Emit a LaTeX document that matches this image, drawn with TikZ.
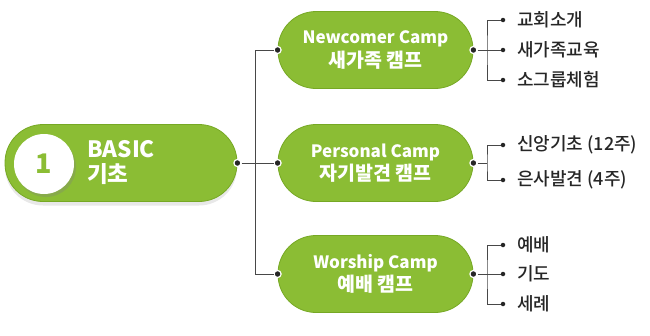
\documentclass[tikz,border=0pt]{standalone}
\usepackage{fontspec}
\setmainfont{Noto Sans CJK KR}
\newfontfamily\leaffont{Noto Sans CJK KR Medium}
\usetikzlibrary{positioning,calc,shadows}
\definecolor{CampGreen}{RGB}{139,189,52}
\definecolor{CampEdge}{RGB}{118,168,36}
\definecolor{LeafGray}{RGB}{38,38,38}
\definecolor{WireGray}{RGB}{72,72,72}
\newcommand{\korline}[1]{{\fontsize{19.5}{23.5}\selectfont #1}}

\begin{document}
\begin{tikzpicture}[
    x=1pt, y=-1pt,
    camp/.style={
        draw=CampEdge,
        fill=CampGreen,
        line width=0.8pt,
        rounded corners=38pt,
        minimum width=195pt,
        minimum height=77pt,
        align=center,
        text=white,
        font=\bfseries\fontsize{17}{23.5}\selectfont
    },
    leaf/.style={anchor=west, inner sep=0pt, text=LeafGray, font=\leaffont\fontsize{18}{20}\selectfont},
    wire/.style={draw=WireGray, line width=1pt},
    port/.style={circle, fill=black!85, draw=white, line width=1.2pt, inner sep=0pt, minimum size=7pt},
    tip/.style={circle, fill=black!85, inner sep=0pt, minimum size=4.5pt}
]
\useasboundingbox (0,0) rectangle (650,335);

% basic block
\node[camp, minimum width=232pt, drop shadow={opacity=0.18, shadow xshift=0pt, shadow yshift=-4pt}] (basic) at (121,163) {};
\node[circle, fill=white, minimum size=60pt, inner sep=0pt, text=CampGreen,
      font=\bfseries\fontsize{27}{29}\selectfont,
      drop shadow={opacity=0.3, shadow xshift=2pt, shadow yshift=-3pt}] (num) at (44,164) {1};
\node[anchor=west, align=left, inner sep=0pt, text=white, font=\bfseries\fontsize{22.5}{25}\selectfont] (basictxt) at (87,163) {BASIC\\기초};

% camps
\node[camp] (newcomer) at (375.5,50) {Newcomer Camp\\\korline{새가족 캠프}};
\node[camp] (personal) at (375.5,163) {Personal Camp\\\korline{자기발견 캠프}};
\node[camp] (worship) at (375.5,274) {Worship Camp\\\korline{예배 캠프}};

% ports
\node[port] (bout) at (basic.east) {};
\node[port] (nin) at (newcomer.west) {};
\node[port] (pin) at (personal.west) {};
\node[port] (win) at (worship.west) {};
\node[port] (nout) at (newcomer.east) {};
\node[port] (pout) at (personal.east) {};
\node[port] (wout) at (worship.east) {};

\coordinate (split) at (255.5,163);
\draw[wire] (nin) -| (split) |- (win);
\draw[wire] (bout) -- (pin);

% leaves
\node[leaf] (n1) at (517,20) {교회소개};
\node[leaf] (n2) at (517,50) {새가족교육};
\node[leaf] (n3) at (517,80) {소그룹체험};
\node[leaf] (p1) at (517,145) {신앙기초 (12주)};
\node[leaf] (p2) at (517,180) {은사발견 (4주)};
\node[leaf] (w1) at (517,245) {예배};
\node[leaf] (w2) at (517,274) {기도};
\node[leaf] (w3) at (517,304) {세례};

\foreach \l in {n1,n2,n3,p1,p2,w1,w2,w3}
    \node[tip] (\l dot) at ($(\l.west)+(-14,0)$) {};

\coordinate (nsplit) at (487,50);
\coordinate (psplit) at (487,163);
\coordinate (wsplit) at (487,274);

\draw[wire] (nout) -- (n2dot);
\draw[wire] (n1dot) -| (nsplit) |- (n3dot);
\draw[wire] (pout) -- (psplit);
\draw[wire] (p1dot) -| (psplit) |- (p2dot);
\draw[wire] (wout) -- (w2dot);
\draw[wire] (w1dot) -| (wsplit) |- (w3dot);

\end{tikzpicture}
\end{document}
